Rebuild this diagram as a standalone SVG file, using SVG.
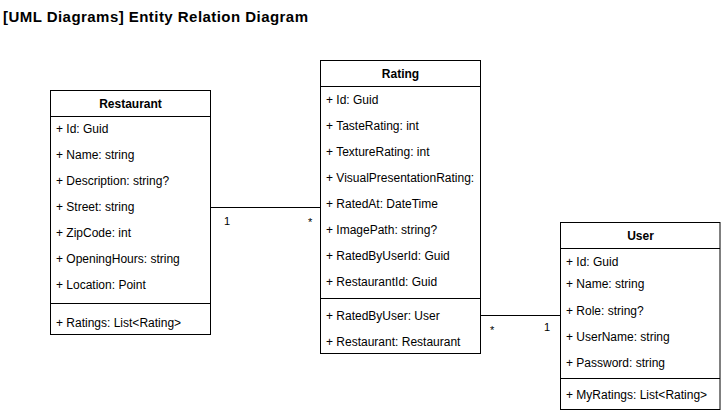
<svg xmlns="http://www.w3.org/2000/svg" width="721" height="412" viewBox="0 0 721 412">
<style>
text{font-family:"Liberation Sans",Arial,sans-serif;fill:#000}
.t{font-size:15px;font-weight:bold}
.h{font-size:12px;font-weight:bold;text-anchor:middle}
.a{font-size:12px}
.m{font-size:11px}
.box{fill:#fff;stroke:#000;stroke-width:1}
.ln{stroke:#000;stroke-width:1;fill:none}
</style>
<rect width="721" height="412" fill="#fff"/>
<text class="t" x="3" y="22" textLength="305" lengthAdjust="spacing">[UML Diagrams] Entity Relation Diagram</text>
<g id="connectors">
<path class="ln" d="M210.5 207.5H320.5"/>
<text class="m" x="224" y="225">1</text>
<text class="m" x="308" y="226">*</text>
<path class="ln" d="M480.5 315.5H560.5"/>
<text class="m" x="490" y="334">*</text>
<text class="m" x="544" y="331">1</text>
</g>
<g id="restaurant">
<rect class="box" x="50.5" y="90.5" width="160" height="244"/>
<path class="ln" d="M50.5 116.5H210.5M50.5 303.5H210.5"/>
<text class="h" x="130.5" y="108">Restaurant</text>
<text class="a" x="56" y="133">+ Id: Guid</text>
<text class="a" x="56" y="159">+ Name: string</text>
<text class="a" x="56" y="185">+ Description: string?</text>
<text class="a" x="56" y="211">+ Street: string</text>
<text class="a" x="56" y="237">+ ZipCode: int</text>
<text class="a" x="56" y="263">+ OpeningHours: string</text>
<text class="a" x="56" y="289">+ Location: Point</text>
<text class="a" x="56" y="326.5">+ Ratings: List&lt;Rating&gt;</text>
</g>
<g id="rating">
<rect class="box" x="320.5" y="60.5" width="160" height="293"/>
<path class="ln" d="M320.5 86.5H480.5M320.5 298.5H480.5"/>
<text class="h" x="400.5" y="78">Rating</text>
<text class="a" x="326" y="103.5">+ Id: Guid</text>
<text class="a" x="326" y="129.5">+ TasteRating: int</text>
<text class="a" x="326" y="155.5">+ TextureRating: int</text>
<text class="a" x="326" y="181.5">+ VisualPresentationRating:</text>
<text class="a" x="326" y="207.5">+ RatedAt: DateTime</text>
<text class="a" x="326" y="233.5">+ ImagePath: string?</text>
<text class="a" x="326" y="259.5">+ RatedByUserId: Guid</text>
<text class="a" x="326" y="285.5">+ RestaurantId: Guid</text>
<text class="a" x="326" y="320">+ RatedByUser: User</text>
<text class="a" x="326" y="346">+ Restaurant: Restaurant</text>
</g>
<g id="user">
<rect class="box" x="560.5" y="222.5" width="159.5" height="187"/>
<path class="ln" d="M560.5 248.5H720M560.5 378.5H720"/>
<text class="h" x="640.5" y="240">User</text>
<text class="a" x="566" y="266">+ Id: Guid</text>
<text class="a" x="566" y="288">+ Name: string</text>
<text class="a" x="566" y="314.5">+ Role: string?</text>
<text class="a" x="566" y="340.5">+ UserName: string</text>
<text class="a" x="566" y="366.5">+ Password: string</text>
<text class="a" x="566" y="399">+ MyRatings: List&lt;Rating&gt;</text>
</g>
</svg>
